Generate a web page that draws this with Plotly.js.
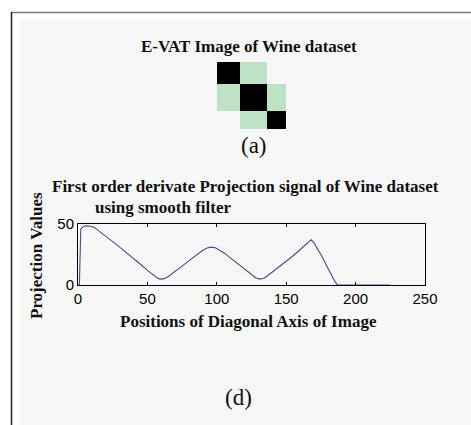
<!DOCTYPE html>
<html>
<head>
<meta charset="utf-8">
<script src="https://cdn.plot.ly/plotly-3.0.1.min.js"></script>
<style>html,body{margin:0;padding:0;background:#fff;}#chart{width:471px;height:425px;}</style>
</head>
<body>
<div id="chart"></div>
<script>
// E-VAT image (3 clusters of the Wine dataset)
const clusterEdges = [0, 59, 130, 178];
const evatMatrix = [
  [0, 1, null],
  [1, 0, 1],
  [null, 1, 0]
];

// Projection signal
const positions = [0, 1, 2, 4, 6, 8, 10, 12, 15, 20, 25, 30, 35, 40, 45, 50, 55, 58, 60, 62, 65,
  70, 75, 80, 85, 90, 93, 96, 99, 102, 105, 110, 115, 120, 125, 128, 131, 134, 137,
  140, 145, 150, 155, 160, 165, 168, 170, 175, 180, 185, 187, 190, 200, 210, 220, 225];
const projection = [0, 0, 46, 48, 48.5, 48.5, 48, 47, 44.5, 40, 35.5, 31, 26.5, 22, 17, 12, 7.5, 5.2, 4.8, 5.2, 7,
  11, 15.5, 20, 24.5, 28.5, 30.3, 31, 30.5, 28.8, 26.5, 22, 17.5, 13, 8.5, 6, 4.8, 5.5, 8,
  10.5, 15, 19.5, 24, 29, 34, 37, 34.5, 25, 14, 3, 0, 0, 0, 0, 0, 0];
const xTicks = [0, 50, 100, 150, 200, 250];
const yTicks = [0, 50];

const W = 471, H = 425;
const px = x => x / W;
const py = y => 1 - y / H;
const serif = "Liberation Serif, Times New Roman, serif";
const sans = "Liberation Sans, Arial, sans-serif";

const traces = [
  {
    type: 'heatmap',
    x: clusterEdges,
    y: clusterEdges,
    z: evatMatrix,
    xaxis: 'x2', yaxis: 'y2',
    colorscale: [[0, '#000000'], [1, '#bfe1c4']],
    zmin: 0, zmax: 1,
    showscale: false,
    hoverinfo: 'skip'
  },
  {
    type: 'scatter',
    mode: 'lines',
    x: positions,
    y: projection,
    line: {color: '#4a4a8c', width: 1.1},
    hoverinfo: 'skip'
  }
];

const axisStyle = {
  showline: true, linecolor: '#000', linewidth: 1, mirror: 'allticks',
  ticks: 'inside', ticklen: 3, tickcolor: '#000',
  showgrid: false, zeroline: false,
  tickfont: {family: sans, size: 15, color: '#000'}
};

const layout = {
  width: W, height: H,
  margin: {l: 0, r: 0, t: 0, b: 0},
  paper_bgcolor: '#ffffff',
  plot_bgcolor: 'rgba(0,0,0,0)',
  showlegend: false,
  xaxis: Object.assign({}, axisStyle, {
    domain: [px(78), px(425)], range: [0, 250],
    tickvals: xTicks, ticktext: xTicks.map(String), anchor: 'y'
  }),
  yaxis: Object.assign({}, axisStyle, {
    domain: [py(285), py(224)], range: [0, 50],
    tickvals: yTicks, ticktext: yTicks.map(String), anchor: 'x'
  }),
  xaxis2: {
    domain: [px(217), px(286)], range: [0, 178], anchor: 'y2',
    showticklabels: false, showgrid: false, zeroline: false, showline: false, ticks: ''
  },
  yaxis2: {
    domain: [py(129), py(62)], range: [178, 0], anchor: 'x2',
    showticklabels: false, showgrid: false, zeroline: false, showline: false, ticks: ''
  },
  shapes: [
    {type: 'rect', xref: 'paper', yref: 'paper', x0: px(20), x1: 1, y0: 0, y1: py(21),
     fillcolor: '#f7f7f7', line: {width: 0}, layer: 'below'},
    {type: 'line', xref: 'paper', yref: 'paper', x0: px(11), x1: 1, y0: py(12.5), y1: py(12.5),
     line: {color: '#777', width: 1.5}},
    {type: 'line', xref: 'paper', yref: 'paper', x0: px(11.5), x1: px(11.5), y0: 0, y1: py(12),
     line: {color: '#222', width: 1.5}}
  ],
  annotations: [
    {text: '<b>E-VAT Image of Wine dataset</b>', xref: 'paper', yref: 'paper',
     x: px(249), y: py(46), xanchor: 'center', yanchor: 'middle', showarrow: false,
     font: {family: serif, size: 17, color: '#111'}},
    {text: '(a)', xref: 'paper', yref: 'paper',
     x: px(254), y: py(145), xanchor: 'center', yanchor: 'middle', showarrow: false,
     font: {family: serif, size: 23, color: '#111'}},
    {text: '<b>First order derivate Projection signal of Wine dataset</b>', xref: 'paper', yref: 'paper',
     x: px(50), y: py(187), xanchor: 'left', yanchor: 'middle', showarrow: false,
     font: {family: serif, size: 17, color: '#111'}},
    {text: '<b>using smooth filter</b>', xref: 'paper', yref: 'paper',
     x: px(93), y: py(207), xanchor: 'left', yanchor: 'middle', showarrow: false,
     font: {family: serif, size: 17, color: '#111'}},
    {text: '<b>Projection Values</b>', xref: 'paper', yref: 'paper',
     x: px(37), y: py(256), xanchor: 'center', yanchor: 'middle', textangle: -90, showarrow: false,
     font: {family: serif, size: 17, color: '#111'}},
    {text: '<b>Positions of Diagonal Axis of Image</b>', xref: 'paper', yref: 'paper',
     x: px(248), y: py(321), xanchor: 'center', yanchor: 'middle', showarrow: false,
     font: {family: serif, size: 17, color: '#111'}},
    {text: '(d)', xref: 'paper', yref: 'paper',
     x: px(238), y: py(397), xanchor: 'center', yanchor: 'middle', showarrow: false,
     font: {family: serif, size: 23, color: '#111'}}
  ]
};

Plotly.newPlot('chart', traces, layout, {staticPlot: true, displayModeBar: false});
</script>
</body>
</html>
